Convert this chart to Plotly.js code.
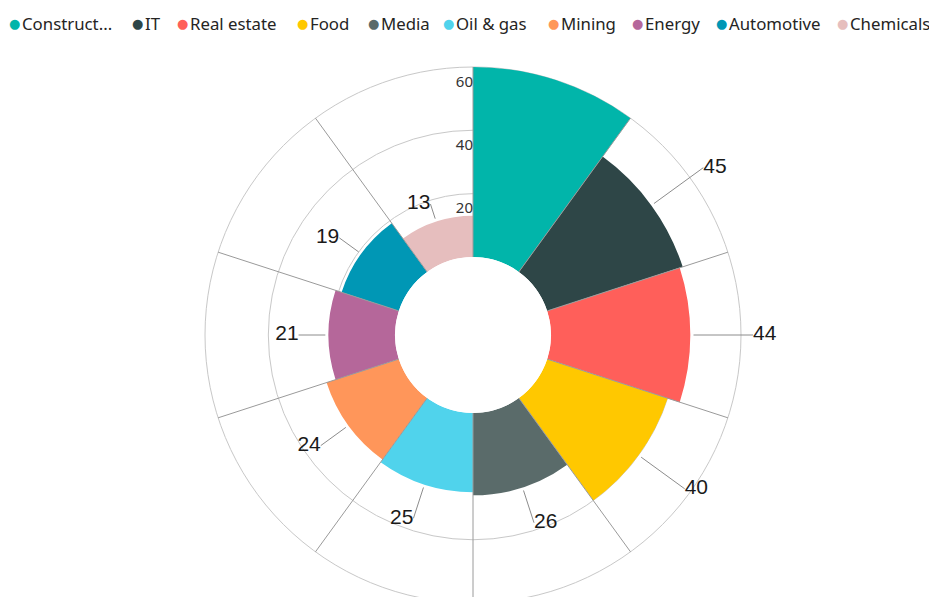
<!DOCTYPE html>
<html>
<head>
<meta charset="utf-8">
<script src="https://cdn.plot.ly/plotly-3.0.1.min.js"></script>
<style>
html,body{margin:0;padding:0;overflow:hidden;background:#fff;}
#chart{width:929px;height:645px;}
</style>
</head>
<body>
<div id="chart"></div>
<script>
// ---- data ----
const categories = ["Construction","IT","Real estate","Food","Media","Oil & gas","Mining","Energy","Automotive","Chemicals"];
const legendLabels = ["Construct...","IT","Real estate","Food","Media","Oil & gas","Mining","Energy","Automotive","Chemicals"];
const values = [60,45,44,40,26,25,24,21,19,13];
const showLabel = [false,true,true,true,true,true,true,true,true,true];
const colors = ["#01B5AA","#2E4647","#FF5F5A","#FFC800","#5A6B6A","#50D3EC","#FF965A","#B5679A","#0097B5","#E6BEBE"];
const radialTicks = [20,40,60];
const radialMax = 60;

// ---- layout helpers ----
const n = categories.length;
const step = 360 / n;
const thetaCenters = categories.map((_, i) => i * step + step / 2);
const boundaries = categories.map((_, i) => i * step);

const traces = [];
// spokes (angular grid limited to the outer ring)
const sr = [], st = [];
boundaries.forEach(b => { sr.push(0, radialMax, null); st.push(b, b, null); });
traces.push({
  type: "scatterpolar", mode: "lines", r: sr, theta: st,
  line: {color: "#9a9a9a", width: 1}, showlegend: false, hoverinfo: "skip"
});

categories.forEach((c, i) => {
  traces.push({
    type: "barpolar",
    name: c,
    r: [values[i]],
    theta: [thetaCenters[i]],
    width: [step],
    marker: {color: colors[i], line: {width: 0}},
    showlegend: false,
    hoverinfo: "name+r"
  });
});

// leader lines + data labels
const lr = [], lt = [];
const tr = [], tt = [], tx = [], tp = [];
values.forEach((v, i) => {
  if (!showLabel[i]) return;
  const start = v + 1;
  const end = v * 1.45;
  lr.push(start, end, null);
  lt.push(thetaCenters[i], thetaCenters[i], null);
  tr.push(end);
  tt.push(thetaCenters[i]);
  tx.push(String(v));
  tp.push(thetaCenters[i] < 180 ? "middle right" : "middle left");
});
traces.push({
  type: "scatterpolar", mode: "lines", r: lr, theta: lt,
  line: {color: "#8c8c8c", width: 1}, showlegend: false, hoverinfo: "skip", cliponaxis: false
});
traces.push({
  type: "scatterpolar", mode: "text", r: tr, theta: tt, text: tx, textposition: tp,
  textfont: {family: "Liberation Sans, Arial, sans-serif", size: 21, color: "#1a1a1a"},
  showlegend: false, hoverinfo: "skip", cliponaxis: false
});
// radial tick labels (inside each ring, left of the top spoke)
traces.push({
  type: "scatterpolar", mode: "text",
  r: radialTicks.map(t => t - 5), theta: radialTicks.map(() => 0),
  text: radialTicks.map(String), textposition: "middle left",
  textfont: {family: "Noto Sans, sans-serif", size: 15, color: "#333"},
  showlegend: false, hoverinfo: "skip", cliponaxis: false
});

// legend as annotations
const W = 929, H = 645;
const dotX = [14,137,182,302,373,448,553,637,721,842];
const annotations = [];
legendLabels.forEach((lab, i) => {
  annotations.push({
    xref: "paper", yref: "paper", x: dotX[i] / W, y: 1 - 23 / H,
    xanchor: "center", yanchor: "middle", showarrow: false,
    text: "●", font: {size: 13, color: colors[i], family: "DejaVu Sans"}
  });
  annotations.push({
    xref: "paper", yref: "paper", x: (dotX[i] + 6) / W, y: 1 - 23 / H,
    xanchor: "left", yanchor: "middle", showarrow: false,
    text: lab, font: {size: 16.8, color: "#252423", family: "Noto Sans, sans-serif"}
  });
});

// geometry: hole edge ~78px, 60 ring at 268px; axis extended to 70 so outside labels show
const cx = 473, cy = 335, r0 = 78, r60 = 268, axisMax = 70;
const k = (r60 - r0) / radialMax;
const R = r0 + axisMax * k;
const layout = {
  width: W, height: H,
  margin: {l: 0, r: 0, t: 0, b: 0},
  paper_bgcolor: "#fff",
  showlegend: false,
  annotations: annotations,
  polar: {
    domain: {x: [(cx - R) / W, (cx + R) / W], y: [(H - cy - R) / H, (H - cy + R) / H]},
    hole: r0 / R,
    bgcolor: "rgba(0,0,0,0)",
    barmode: "overlay",
    radialaxis: {
      range: [0, axisMax], tickvals: radialTicks, showticklabels: false, ticks: "",
      gridcolor: "#c8c8c8", gridwidth: 1, showline: false, angle: 90
    },
    angularaxis: {
      direction: "clockwise", rotation: 90, tickvals: boundaries,
      showticklabels: false, ticks: "", showgrid: false,
      showline: false
    }
  }
};
Plotly.newPlot("chart", traces, layout, {displayModeBar: false, staticPlot: true});
</script>
</body>
</html>
